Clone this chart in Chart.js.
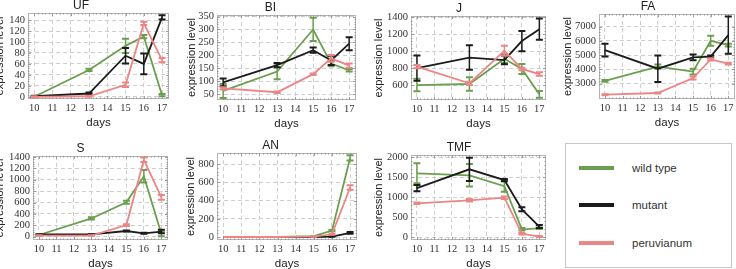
<!DOCTYPE html>
<html>
<head>
<meta charset="utf-8">
<script src="https://cdn.jsdelivr.net/npm/chart.js@4.4.0/dist/chart.umd.min.js"></script>
<style>
  html, body { margin: 0; padding: 0; background: #fff; }
  #wrap { position: relative; width: 736px; height: 269px; overflow: hidden; font-family: "Liberation Sans", Arial, sans-serif; }
  #wrap canvas { position: absolute; }
  .legend { position: absolute; left: 565px; top: 143px; width: 167px; height: 125px; border: 1px solid #c8c8c8; box-sizing: border-box; }
  .legend .item { position: absolute; left: 0; height: 14px; line-height: 14px; font-size: 11.5px; color: #333; }
  .legend .sw { position: absolute; left: 13px; top: 5px; width: 35px; height: 4px; }
  .legend .lbl { position: absolute; left: 66px; top: 0; white-space: nowrap; }
</style>
</head>
<body>
<div id="wrap">
  <div class="legend" id="legend"></div>
</div>
<script>
// sampling days, shared by every panel
const days = [10, 13, 15, 16, 17];
const dayTicks = [10, 11, 12, 13, 14, 15, 16, 17];

const seriesNames = ['wild type', 'mutant', 'peruvianum'];
const seriesColors = ['#6b9e4e', '#1b1b1b', '#ec8585'];

// UF
const ufWild = [0, 49, 93, 110, 3];
const ufWildErr = [1, 2, 13, 3, 2];
const ufMutant = [1, 6, 75, 60, 145];
const ufMutantErr = [1, 2, 14, 19, 4];
const ufPeru = [0, 1, 22, 134, 67];
const ufPeruErr = [1, 1, 4, 3, 4];
const ufTicks = [0, 20, 40, 60, 80, 100, 120, 140];

// BI
const biWild = [62, 137, 300, 168, 142];
const biWildErr = [27, 30, 45, 10, 5];
const biMutant = [95, 162, 220, 180, 245];
const biMutantErr = [15, 8, 10, 18, 25];
const biPeru = [72, 57, 127, 188, 160];
const biPeruErr = [4, 3, 3, 13, 8];
const biTicks = [50, 100, 150, 200, 250, 300, 350];

// J
const jWild = [600, 612, 910, 790, 490];
const jWildErr = [75, 80, 50, 60, 40];
const jMutant = [800, 925, 895, 1120, 1260];
const jMutantErr = [150, 145, 50, 120, 125];
const jPeru = [818, 620, 1005, 790, 730];
const jPeruErr = [20, 20, 60, 15, 20];
const jTicks = [600, 800, 1000, 1200, 1400];

// FA
const faWild = [3200, 4200, 3850, 6000, 5700];
const faWildErr = [60, 150, 200, 350, 100];
const faMutant = [5350, 4050, 4850, 4900, 6400];
const faMutantErr = [450, 930, 200, 80, 1300];
const faPeru = [2230, 2350, 3400, 4700, 4400];
const faPeruErr = [30, 40, 100, 80, 60];
const faTicks = [3000, 4000, 5000, 6000, 7000];

// S
const sWild = [30, 320, 605, 1060, 50];
const sWildErr = [5, 20, 25, 110, 40];
const sMutant = [40, 40, 100, 60, 90];
const sMutantErr = [5, 5, 10, 10, 30];
const sPeru = [20, 20, 205, 1350, 690];
const sPeruErr = [5, 5, 15, 40, 40];
const sTicks = [0, 200, 400, 600, 800, 1000, 1200, 1400];

// AN
const anWild = [0, 0, 10, 70, 870];
const anWildErr = [0, 0, 2, 8, 28];
const anMutant = [0, 0, 0, 5, 45];
const anMutantErr = [0, 0, 0, 2, 10];
const anPeru = [0, 0, 5, 30, 545];
const anPeruErr = [0, 0, 2, 5, 25];
const anTicks = [0, 200, 400, 600, 800];

// TMF
const tmfWild = [1600, 1550, 1280, 200, 225];
const tmfWildErr = [250, 280, 140, 30, 20];
const tmfMutant = [1230, 1700, 1430, 700, 270];
const tmfMutantErr = [80, 290, 30, 50, 40];
const tmfPeru = [850, 925, 990, 90, 20];
const tmfPeruErr = [20, 30, 30, 20, 10];
const tmfTicks = [0, 500, 1000, 1500, 2000];

const SANS = '"Liberation Sans", Arial, sans-serif';
const SERIF = '"Liberation Serif", "Times New Roman", serif';

// plot box: [left, top, right, bottom, offset of y title], plus y range
const panels = [
  { title: 'UF', box: [28, 13, 169, 99, 28], y: [-4, 153], ticks: ufTicks,
    values: [ufWild, ufMutant, ufPeru], errs: [ufWildErr, ufMutantErr, ufPeruErr] },
  { title: 'BI', box: [217, 15, 356, 100, 25], y: [27, 356], ticks: biTicks,
    values: [biWild, biMutant, biPeru], errs: [biWildErr, biMutantErr, biPeruErr] },
  { title: 'J', box: [411, 16, 546, 100, 32], y: [423, 1416], ticks: jTicks,
    values: [jWild, jMutant, jPeru], errs: [jWildErr, jMutantErr, jPeruErr] },
  { title: 'FA', box: [599, 14, 735, 99, 31], y: [1930, 7880], ticks: faTicks,
    values: [faWild, faMutant, faPeru], errs: [faWildErr, faMutantErr, faPeruErr] },
  { title: 'S', box: [33, 156, 168, 240, 33], y: [-58, 1417], ticks: sTicks,
    values: [sWild, sMutant, sPeru], errs: [sWildErr, sMutantErr, sPeruErr] },
  { title: 'AN', box: [217, 153, 357, 240, 26], y: [-33, 924], ticks: anTicks,
    values: [anWild, anMutant, anPeru], errs: [anWildErr, anMutantErr, anPeruErr] },
  { title: 'TMF', box: [411, 155, 546, 240, 32], y: [-67, 2058], ticks: tmfTicks,
    values: [tmfWild, tmfMutant, tmfPeru], errs: [tmfWildErr, tmfMutantErr, tmfPeruErr] }
];

// error bars, drawn right after each line so the layering follows the series
const errorBars = {
  id: 'errorBars',
  afterDatasetDraw(chart, args) {
    const ds = chart.data.datasets[args.index];
    const { x, y } = chart.scales;
    const ctx = chart.ctx;
    const a = chart.chartArea;
    ctx.save();
    ctx.beginPath();
    ctx.rect(a.left, a.top, a.right - a.left, a.bottom - a.top);
    ctx.clip();
    ctx.strokeStyle = ds.borderColor;
    ds.data.forEach((p, i) => {
      const e = ds.err[i];
      if (!e) return;
      const px = x.getPixelForValue(p.x);
      const y1 = y.getPixelForValue(p.y - e);
      const y2 = y.getPixelForValue(p.y + e);
      ctx.lineWidth = 1.5;
      ctx.beginPath();
      ctx.moveTo(px, y1); ctx.lineTo(px, y2);
      ctx.stroke();
      ctx.lineWidth = 2;
      ctx.beginPath();
      ctx.moveTo(px - 3.5, y1); ctx.lineTo(px + 3.5, y1);
      ctx.moveTo(px - 3.5, y2); ctx.lineTo(px + 3.5, y2);
      ctx.stroke();
    });
    ctx.restore();
  }
};

// Mathematica-like frame with small inward ticks on all sides
const frame = {
  id: 'frame',
  beforeDatasetsDraw(chart) {
    const { x, y } = chart.scales;
    const a = chart.chartArea;
    const ctx = chart.ctx;
    ctx.save();
    ctx.strokeStyle = '#b4b4b4';
    ctx.lineWidth = 1;
    ctx.strokeRect(a.left + 0.5, a.top + 0.5, a.right - a.left - 1, a.bottom - a.top - 1);
    ctx.strokeStyle = '#9a9a9a';
    ctx.beginPath();
    const xt = x.ticks.map(t => t.value);
    for (let i = 0; i < xt.length; i++) {
      const px = Math.round(x.getPixelForValue(xt[i])) + 0.5;
      ctx.moveTo(px, a.bottom); ctx.lineTo(px, a.bottom - 3);
      ctx.moveTo(px, a.top); ctx.lineTo(px, a.top + 3);
      if (i < xt.length - 1) {
        for (let k = 1; k < 5; k++) {
          const mx = Math.round(x.getPixelForValue(xt[i] + (xt[i + 1] - xt[i]) * k / 5)) + 0.5;
          ctx.moveTo(mx, a.bottom); ctx.lineTo(mx, a.bottom - 1.5);
          ctx.moveTo(mx, a.top); ctx.lineTo(mx, a.top + 1.5);
        }
      }
    }
    const yt = y.ticks.map(t => t.value);
    for (let i = 0; i < yt.length; i++) {
      const py = Math.round(y.getPixelForValue(yt[i])) + 0.5;
      ctx.moveTo(a.left, py); ctx.lineTo(a.left + 3, py);
      ctx.moveTo(a.right, py); ctx.lineTo(a.right - 3, py);
      if (i < yt.length - 1) {
        for (let k = 1; k < 5; k++) {
          const my = Math.round(y.getPixelForValue(yt[i] + (yt[i + 1] - yt[i]) * k / 5)) + 0.5;
          ctx.moveTo(a.left, my); ctx.lineTo(a.left + 1.5, my);
          ctx.moveTo(a.right, my); ctx.lineTo(a.right - 1.5, my);
        }
      }
    }
    ctx.stroke();
    ctx.restore();
  }
};

function makePanel(p) {
  const [pl, pt, pr, pb, d] = p.box;
  const left = pl - d - 7;
  const top = pt - 13;
  const yWidth = pl - left;
  const xHeight = 31;
  const cv = document.createElement('canvas');
  cv.width = pr - left + 5;
  cv.height = pb + xHeight - top;
  cv.style.left = left + 'px';
  cv.style.top = top + 'px';
  document.getElementById('wrap').appendChild(cv);

  const datasets = p.values.map((vals, s) => ({
    label: seriesNames[s],
    data: days.map((d, i) => ({ x: d, y: vals[i] })),
    err: p.errs[s],
    borderColor: seriesColors[s],
    borderWidth: 1.8,
    pointRadius: 0,
    tension: 0,
    order: 3 - s
  }));

  const gridOpts = { color: '#cfcfcf', lineWidth: 1, drawTicks: false, borderDash: [4, 3] };
  const borderOpts = { display: false, dash: [4, 3] };

  return new Chart(cv, {
    type: 'line',
    data: { datasets },
    options: {
      responsive: false,
      animation: false,
      layout: { padding: { left: 0, right: 5, top: 0, bottom: 0 } },
      plugins: {
        legend: { display: false },
        tooltip: { enabled: false },
        title: {
          display: true, text: p.title, color: '#222',
          font: { family: SANS, size: 12, weight: 'normal', lineHeight: 1 },
          padding: { top: 0, bottom: 1 }
        }
      },
      scales: {
        x: {
          type: 'linear', min: 9.66, max: 17.38,
          afterBuildTicks: s => { s.ticks = dayTicks.map(v => ({ value: v })); },
          afterFit: s => { s.height = xHeight; },
          grid: gridOpts, border: borderOpts,
          ticks: { color: '#333', font: { family: SERIF, size: 10.5 }, padding: 3, maxRotation: 0, autoSkip: false,
                   callback: v => String(v) },
          title: { display: true, text: 'days', color: '#222', font: { family: SANS, size: 11.5 }, padding: 0 }
        },
        y: {
          type: 'linear', min: p.y[0], max: p.y[1],
          afterBuildTicks: s => { s.ticks = p.ticks.map(v => ({ value: v })); },
          afterFit: s => { s.width = yWidth; },
          grid: gridOpts, border: borderOpts,
          ticks: { color: '#333', font: { family: SERIF, size: 10.5 }, padding: 3, autoSkip: false,
                   callback: v => String(v) },
          title: { display: true, text: 'expression level', color: '#222', font: { family: SANS, size: 11 }, padding: 0 }
        }
      }
    },
    plugins: [frame, errorBars]
  });
}

panels.forEach(makePanel);

// legend box
const legend = document.getElementById('legend');
const legendRows = [24, 61, 99];
seriesNames.forEach((name, i) => {
  const row = document.createElement('div');
  row.className = 'item';
  row.style.top = (legendRows[i] - 7) + 'px';
  row.style.width = '100%';
  row.innerHTML = '<span class="sw" style="background:' + seriesColors[i] + '"></span><span class="lbl">' + name + '</span>';
  legend.appendChild(row);
});
</script>
</body>
</html>
